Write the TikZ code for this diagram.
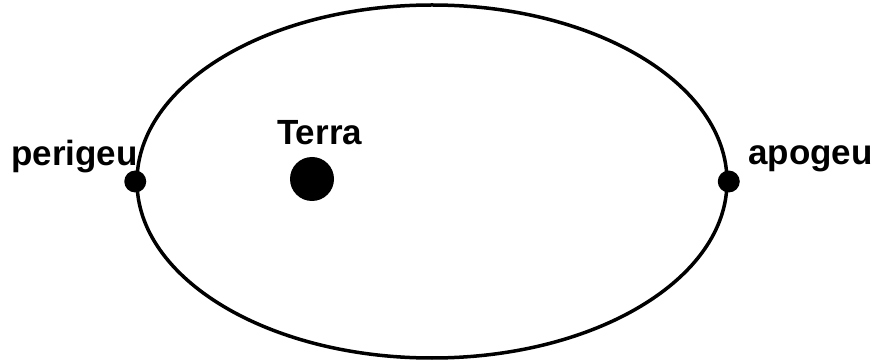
\documentclass[tikz,border=0pt]{standalone}
\usepackage{fontspec}
\setmainfont{Liberation Sans}
\usetikzlibrary{shapes.geometric}
\begin{document}
\begin{tikzpicture}[x=1pt,y=-1pt,
  orbit/.style={draw=black,line width=3.5pt,ellipse,minimum width=590pt,minimum height=353pt,inner sep=0pt},
  pointdot/.style={circle,fill=black,minimum size=22pt,inner sep=0pt},
  earthdot/.style={circle,fill=black,minimum size=44pt,inner sep=0pt},
  lbl/.style={font=\bfseries\fontsize{35}{40}\selectfont,anchor=base west,inner sep=0pt}]
\useasboundingbox (0,0) rectangle (878,363);
\node[orbit] (orb) at (432,181.5) {};
\node[pointdot] (per) at (orb.west) {};
\node[pointdot] (apo) at (orb.east) {};
\node[earthdot] (terra) at (312,179) {};
\node[lbl] (lper) at (11,166) {perigeu};
\node[lbl] (lterra) at (277,145) {Terra};
\node[lbl] (lapo) at (748,165) {apogeu};
\end{tikzpicture}
\end{document}
